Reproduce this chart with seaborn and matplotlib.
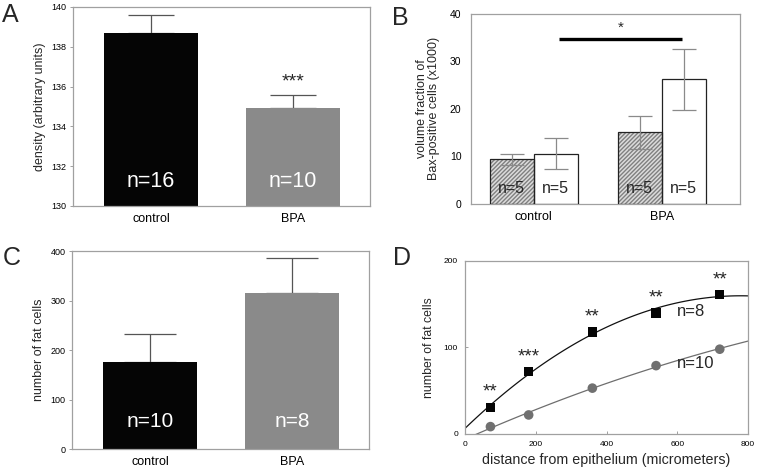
import numpy as np
import pandas as pd
import matplotlib
matplotlib.use("Agg")
import matplotlib.pyplot as plt
from matplotlib.patches import Rectangle
import seaborn as sns

# panel A: density
groups = ["control", "BPA"]
density_mean = [138.7, 134.9]
density_sem = [0.87, 0.68]
density_n = ["n=16", "n=10"]

# panel B: Bax-positive volume fraction (x1000)
bax_series = ["hatched", "open"]
bax_hatched_mean = [9.4, 15.1]
bax_hatched_err = [1.15, 3.45]
bax_open_mean = [10.6, 26.2]
bax_open_err = [3.2, 6.4]
bax_n = ["n=5", "n=5"]

# panel C: number of fat cells
fat_mean = [175, 315]
fat_sem = [57, 71]
fat_n = ["n=10", "n=8"]

# panel D: fat cells vs distance
distance = [72, 180, 360, 540, 720]
fat_bpa = [31, 72, 118, 140, 161]
fat_control = [8.5, 22, 53, 79, 98]
stars_d = ["**", "***", "**", "**", "**"]

sns.set_theme(style="ticks")
plt.rcParams["font.family"] = ["Liberation Sans", "DejaVu Sans"]
plt.rcParams["axes.edgecolor"] = "#a0a0a0"
plt.rcParams["axes.linewidth"] = 0.9
plt.rcParams["xtick.color"] = "#a0a0a0"
plt.rcParams["ytick.color"] = "#a0a0a0"
plt.rcParams["xtick.labelcolor"] = "black"
plt.rcParams["ytick.labelcolor"] = "black"

BLACK = "#050505"
GREY = "#8a8a8a"

fig = plt.figure(figsize=(7.61, 4.73), dpi=100)
axA = fig.add_axes([0.0959, 0.5645, 0.390, 0.421])
axB = fig.add_axes([0.619, 0.5687, 0.353, 0.402])
axC = fig.add_axes([0.0946, 0.0507, 0.390, 0.4186])
axD = fig.add_axes([0.611, 0.0825, 0.372, 0.3658])


def two_bars(ax, means, sems, labels, ylim, yticks, ylabel, capsize, nsize, ny):
    df = pd.DataFrame({"group": groups, "value": means})
    sns.barplot(data=df, x="group", y="value", hue="group", palette=[BLACK, GREY],
                legend=False, width=0.665, ax=ax, linewidth=0, errorbar=None, zorder=2)
    xs = [p.get_x() + p.get_width() / 2 for p in ax.patches]
    ax.errorbar(xs, means, yerr=[np.zeros(len(sems)), sems], fmt="none",
                ecolor="#555555", elinewidth=0.9, capsize=capsize, capthick=0.9, zorder=1)
    for x, lab in zip(xs, labels):
        ax.text(x, ny, lab, color="white", ha="center", va="center", fontsize=nsize)
    ax.set_ylim(*ylim)
    ax.set_yticks(yticks)
    ax.set_xlim(-0.55, 1.54)
    ax.set_xlabel("")
    ax.set_ylabel(ylabel, fontsize=9, labelpad=4)
    ax.tick_params(axis="y", labelsize=6.5, length=2.5, width=0.7, pad=2)
    ax.tick_params(axis="x", labelsize=9, length=0, pad=5)
    for s in ax.spines.values():
        s.set_visible(True)
    return xs


# A
xsA = two_bars(axA, density_mean, density_sem, density_n, (130, 140), [130, 132, 134, 136, 138, 140],
               "density (arbitrary units)", 16.5, 15.5, 131.25)
axA.text(xsA[1], 136.25, "***", ha="center", va="center", fontsize=14)

# C
xsC = two_bars(axC, fat_mean, fat_sem, fat_n, (0, 400), [0, 100, 200, 300, 400],
               "number of fat cells", 19, 15, 55)

# B
dfB = pd.DataFrame({
    "group": groups * 2,
    "series": [bax_series[0]] * 2 + [bax_series[1]] * 2,
    "value": bax_hatched_mean + bax_open_mean,
})
sns.barplot(data=dfB, x="group", y="value", hue="series", hue_order=bax_series,
            palette=["#dcdcdc", "white"], width=0.69, gap=0, errorbar=None,
            legend=False, ax=axB, linewidth=0, zorder=2)
plt.rcParams["hatch.linewidth"] = 0.5
barsB = list(axB.patches)[:4]
means_b = bax_hatched_mean + bax_open_mean
errs_b = bax_hatched_err + bax_open_err
for i, p in enumerate(barsB):
    if i < 2:
        p.set_edgecolor("#808080")
        p.set_hatch("////////")
        p.set_linewidth(0)
    axB.add_patch(Rectangle(p.get_xy(), p.get_width(), p.get_height(), fill=False,
                            edgecolor="#222222", linewidth=0.9, zorder=3))
xsB = [p.get_x() + p.get_width() / 2 for p in barsB]
axB.errorbar(xsB, means_b, yerr=errs_b, fmt="none", ecolor="#8a8a8a",
             elinewidth=0.9, capsize=8.3, capthick=0.9, zorder=4)
for x in xsB:
    axB.text(x, 3.2, "n=5", ha="center", va="center", fontsize=11.5, zorder=5)
axB.plot([0.20, 1.16], [34.7, 34.7], color="black", linewidth=2.4, solid_capstyle="butt")
axB.text(0.68, 37.0, "*", ha="center", va="center", fontsize=11)
axB.set_ylim(0, 40)
axB.set_yticks([0, 10, 20, 30, 40])
axB.set_xlim(-0.49, 1.61)
axB.set_xlabel("")
axB.set_ylabel("volume fraction of\nBax-positive cells (x1000)", fontsize=9, labelpad=7,
               linespacing=1.0)
axB.tick_params(axis="y", labelsize=7.5, length=0, pad=7)
axB.tick_params(axis="x", labelsize=9, length=0, pad=5)
for s in axB.spines.values():
    s.set_visible(True)

# D
axD.set_xlim(0, 800)
axD.set_ylim(0, 200)
sns.regplot(x=distance, y=fat_bpa, order=2, ci=None, truncate=False, scatter=False,
            line_kws={"color": "#111111", "linewidth": 0.9}, ax=axD)
sns.regplot(x=distance, y=fat_control, order=2, ci=None, truncate=False, scatter=False,
            line_kws={"color": "#6e6e6e", "linewidth": 0.9}, ax=axD)
sns.scatterplot(x=distance, y=fat_bpa, marker="s", s=45, color=BLACK, edgecolor="none",
                ax=axD, zorder=5)
sns.scatterplot(x=distance, y=fat_control, marker="o", s=48, color="#707070", edgecolor="none",
                ax=axD, zorder=5)
for x, y, st in zip(distance, fat_bpa, stars_d):
    axD.text(x, y + 17, st, ha="center", va="center", fontsize=13.5)
axD.text(600, 142, "n=8", ha="left", va="center", fontsize=12)
axD.text(600, 82, "n=10", ha="left", va="center", fontsize=12)
axD.set_xlim(0, 800)
axD.set_ylim(0, 200)
axD.set_xticks([0, 200, 400, 600, 800])
axD.set_yticks([0, 100, 200])
axD.set_xlabel("distance from epithelium (micrometers)", fontsize=10.3, labelpad=4)
axD.set_ylabel("number of fat cells", fontsize=8.8, labelpad=6)
axD.tick_params(labelsize=6, length=2.5, width=0.7, direction="in", pad=5)
for s in axD.spines.values():
    s.set_visible(True)

# panel letters
for lab, x, y in [("A", 0.003, 0.968), ("B", 0.515, 0.962), ("C", 0.003, 0.455), ("D", 0.517, 0.455)]:
    fig.text(x, y, lab, fontsize=18, ha="left", va="center")

fig.savefig("out.png", dpi=100)
